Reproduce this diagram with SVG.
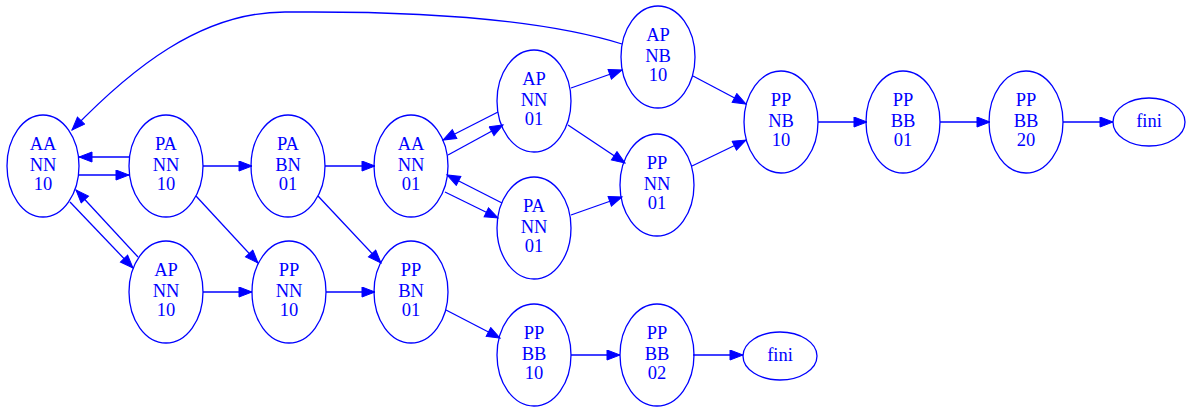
<svg xmlns="http://www.w3.org/2000/svg" width="1186" height="408" viewBox="0 0 1186 408">
  <style>
    .node ellipse { fill: none; stroke: #0000ff; stroke-width: 1.3; }
    .node text { fill: #0000ff; font-family: "Liberation Serif", "Times New Roman", serif; font-size: 18.5px; text-anchor: middle; }
    .edges path { fill: none; stroke: #0000ff; stroke-width: 1.3; marker-end: url(#arrow); }
  </style>
  <defs>
    <marker id="arrow" markerUnits="userSpaceOnUse" markerWidth="16" markerHeight="12" refX="14" refY="5.5" orient="auto">
      <path d="M1,0.5 L14,5.5 L1,10.5 Z" fill="#0000ff" stroke="#0000ff" stroke-width="1"/>
    </marker>
  </defs>
  <rect width="1186" height="408" fill="#ffffff"/>

  <!-- connectors -->
  <g class="edges">
    <!-- long return edge over the top -->
    <path d="M622,44 C560,25 460,12 313,12 L285,12 C200,12 130,70 72,130"/>
    <!-- first column pairs -->
    <path d="M129,157 L79,157"/>
    <path d="M79,175 L129,175"/>
    <path d="M70,202 L133,268"/>
    <path d="M138,257 L76,190"/>
    <!-- second column -->
    <path d="M203,166 L252,166"/>
    <path d="M196,196 L258,263"/>
    <path d="M203,292 L252,292"/>
    <!-- third column -->
    <path d="M325,166 L375,166"/>
    <path d="M318,196 L381,263"/>
    <path d="M326,292 L375,292"/>
    <!-- around AA NN 01 -->
    <path d="M498,112 L443,140"/>
    <path d="M448,155 L503,125"/>
    <path d="M502,203 L447,175"/>
    <path d="M445,192 L498,218"/>
    <path d="M446,310 L500,338"/>
    <!-- fifth column -->
    <path d="M571,88 L622,70"/>
    <path d="M568,125 L625,163"/>
    <path d="M571,215 L622,197"/>
    <path d="M571,355 L620,355"/>
    <!-- sixth column -->
    <path d="M693,76 L746,104"/>
    <path d="M692,166 L746,140"/>
    <path d="M693,355 L743,355"/>
    <!-- right-hand chain -->
    <path d="M818,122 L867,122"/>
    <path d="M940,122 L990,122"/>
    <path d="M1063,122 L1113,122"/>
  </g>

  <!-- nodes -->
  <g id="n_AANN10" class="node">
    <ellipse cx="43" cy="166" rx="36" ry="51"/>
    <text x="43" y="150">AA</text><text x="43" y="171">NN</text><text x="43" y="190">10</text>
  </g>
  <g id="n_PANN10" class="node">
    <ellipse cx="166" cy="166" rx="37" ry="51"/>
    <text x="166" y="150">PA</text><text x="166" y="171">NN</text><text x="166" y="190">10</text>
  </g>
  <g id="n_PABN01" class="node">
    <ellipse cx="288" cy="166" rx="37" ry="51"/>
    <text x="288" y="150">PA</text><text x="288" y="171">BN</text><text x="288" y="190">01</text>
  </g>
  <g id="n_AANN01" class="node">
    <ellipse cx="411" cy="166" rx="37" ry="51"/>
    <text x="411" y="150">AA</text><text x="411" y="171">NN</text><text x="411" y="190">01</text>
  </g>
  <g id="n_APNN01" class="node">
    <ellipse cx="534" cy="101" rx="37" ry="51"/>
    <text x="534" y="85">AP</text><text x="534" y="106">NN</text><text x="534" y="125">01</text>
  </g>
  <g id="n_PANN01" class="node">
    <ellipse cx="534" cy="228" rx="37" ry="51"/>
    <text x="534" y="212">PA</text><text x="534" y="233">NN</text><text x="534" y="252">01</text>
  </g>
  <g id="n_APNB10" class="node">
    <ellipse cx="658" cy="57" rx="37" ry="51"/>
    <text x="658" y="41">AP</text><text x="658" y="62">NB</text><text x="658" y="81">10</text>
  </g>
  <g id="n_PPNN01" class="node">
    <ellipse cx="657" cy="185" rx="37" ry="51"/>
    <text x="657" y="169">PP</text><text x="657" y="190">NN</text><text x="657" y="209">01</text>
  </g>
  <g id="n_PPNB10" class="node">
    <ellipse cx="781" cy="122" rx="37" ry="51"/>
    <text x="781" y="106">PP</text><text x="781" y="127">NB</text><text x="781" y="146">10</text>
  </g>
  <g id="n_PPBB01" class="node">
    <ellipse cx="903" cy="122" rx="37" ry="51"/>
    <text x="903" y="106">PP</text><text x="903" y="127">BB</text><text x="903" y="146">01</text>
  </g>
  <g id="n_PPBB20" class="node">
    <ellipse cx="1026" cy="122" rx="37" ry="51"/>
    <text x="1026" y="106">PP</text><text x="1026" y="127">BB</text><text x="1026" y="146">20</text>
  </g>
  <g id="n_fini1" class="node">
    <ellipse cx="1149" cy="122" rx="36" ry="24"/>
    <text x="1149" y="127">fini</text>
  </g>
  <g id="n_APNN10" class="node">
    <ellipse cx="166" cy="292" rx="37" ry="51"/>
    <text x="166" y="276">AP</text><text x="166" y="297">NN</text><text x="166" y="316">10</text>
  </g>
  <g id="n_PPNN10" class="node">
    <ellipse cx="289" cy="292" rx="37" ry="51"/>
    <text x="289" y="276">PP</text><text x="289" y="297">NN</text><text x="289" y="316">10</text>
  </g>
  <g id="n_PPBN01" class="node">
    <ellipse cx="411" cy="292" rx="37" ry="51"/>
    <text x="411" y="276">PP</text><text x="411" y="297">BN</text><text x="411" y="316">01</text>
  </g>
  <g id="n_PPBB10" class="node">
    <ellipse cx="534" cy="355" rx="37" ry="51"/>
    <text x="534" y="339">PP</text><text x="534" y="360">BB</text><text x="534" y="379">10</text>
  </g>
  <g id="n_PPBB02" class="node">
    <ellipse cx="657" cy="355" rx="37" ry="51"/>
    <text x="657" y="339">PP</text><text x="657" y="360">BB</text><text x="657" y="379">02</text>
  </g>
  <g id="n_fini2" class="node">
    <ellipse cx="780" cy="356" rx="37" ry="24"/>
    <text x="780" y="361">fini</text>
  </g>
</svg>
